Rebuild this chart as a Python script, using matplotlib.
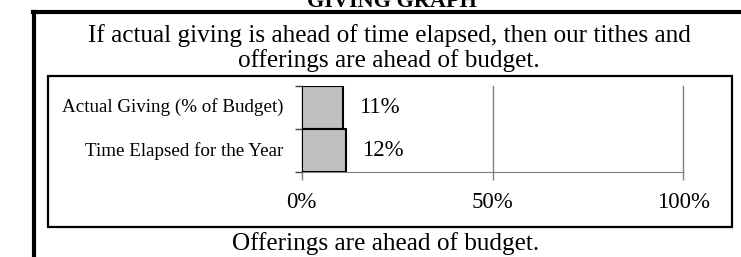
import matplotlib
matplotlib.use("Agg")
import matplotlib.pyplot as plt
from matplotlib.patches import Rectangle
from matplotlib.lines import Line2D

categories = ["Actual Giving (% of Budget)", "Time Elapsed for the Year"]
values = [10.7, 11.5]
value_labels = ["11%", "12%"]
x_ticks = [0, 50, 100]
x_tick_labels = ["0%", "50%", "100%"]

W, H = 741, 257
FONT = "Liberation Serif"
plt.rcParams['font.family'] = [FONT, 'DejaVu Serif']

fig = plt.figure(figsize=(W / 100, H / 100), dpi=100)

def fx(px):
    return px / W

def fy(py):
    return 1 - py / H

# outer thick border (left and top)
fig.add_artist(Line2D([fx(34), fx(34)], [fy(12), fy(257)], color='black', lw=3, transform=fig.transFigure))
fig.add_artist(Line2D([fx(32.5), fx(741)], [fy(12), fy(12)], color='black', lw=3, transform=fig.transFigure))

# inner box
fig.add_artist(Rectangle((fx(48), fy(226.5)), fx(731.5) - fx(48), fy(76) - fy(226.5),
                         fill=False, edgecolor='black', lw=1.6, transform=fig.transFigure))

# texts
CX = 389
fig.text(fx(392), fy(7), "GIVING GRAPH", ha='center', va='baseline', fontsize=16, fontweight='bold')
fig.text(fx(CX), fy(41.7), "If actual giving is ahead of time elapsed, then our tithes and",
         ha='center', va='baseline', fontsize=18.2)
fig.text(fx(CX), fy(66.5), "offerings are ahead of budget.", ha='center', va='baseline', fontsize=18.2)
fig.text(fx(386), fy(250), "Offerings are ahead of budget.", ha='center', va='baseline', fontsize=18.2)

# axes
ax = fig.add_axes([fx(301.7), fy(172.3), fx(683.3) - fx(301.7), fy(85.7) - fy(172.3)])
ypos = [0, 1]
ax.barh(ypos, values, height=1.0, color='#C0C0C0', edgecolor='black', linewidth=1.5, zorder=3)
ax.set_xlim(0, 100)
ax.set_ylim(1.5, -0.5)
ax.set_yticks([-0.5, 0.5, 1.5])
ax.set_yticklabels([])
ax.tick_params(axis='y', length=5, color='#404040', width=1)
for y, c in zip(ypos, categories):
    ax.text(-0.049, y, c, transform=ax.get_yaxis_transform(), ha='right', va='center', fontsize=13.7)
for y, v, lab in zip(ypos, values, value_labels):
    ax.text(v + 4.3, y, lab, ha='left', va='center', fontsize=16.5)
ax.set_xticks(x_ticks)
ax.set_xticklabels(x_tick_labels, fontsize=16.5)
ax.tick_params(axis='x', length=6, color='#808080', width=1, pad=8)
ax.grid(axis='x', color='#808080', lw=1, zorder=0)
for gl in ax.get_xgridlines():
    gl.set_clip_on(False)
ax.set_axisbelow(True)
for s in ['top', 'right']:
    ax.spines[s].set_visible(False)
ax.spines['bottom'].set_color('#808080')
ax.spines['left'].set_color('#404040')
ax.patch.set_alpha(0)

fig.savefig("out.png", dpi=100)
